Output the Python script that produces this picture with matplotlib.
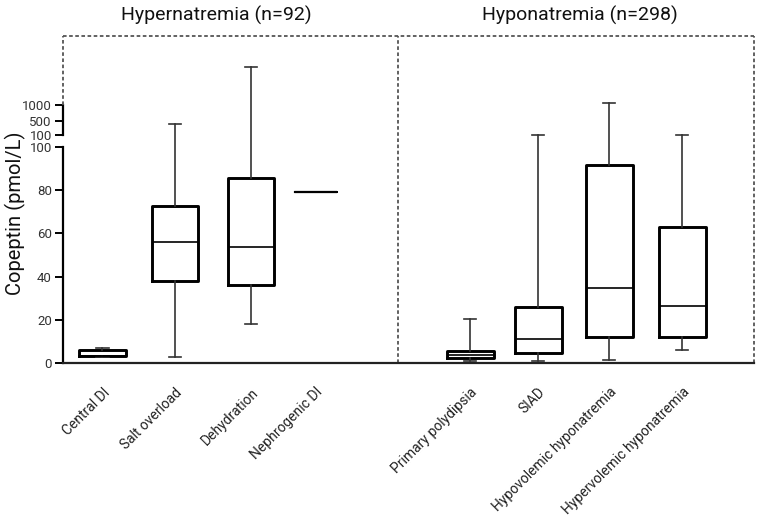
import numpy as np
import matplotlib
matplotlib.use("Agg")
import matplotlib.pyplot as plt
import matplotlib.transforms as mtransforms

plt.rcParams['font.family'] = ['Roboto', 'DejaVu Sans']

# ---------------- data ----------------
categories = ["Central DI", "Salt overload", "Dehydration", "Nephrogenic DI",
              "Primary polydipsia", "SIAD", "Hypovolemic hyponatremia",
              "Hypervolemic hyponatremia"]
whisker_low = [2.6, 2.9, 18.2, 79.0, 0.9, 1.1, 1.4, 6.2]
q1          = [3.4, 37.8, 36.0, 79.0, 2.2, 4.5, 11.9, 12.2]
median      = [3.4, 56.2, 53.8, 79.0, 3.8, 11.0, 34.9, 26.2]
q3          = [6.2, 72.7, 85.5, 79.0, 5.4, 26.1, 91.8, 63.1]
whisker_high = [6.9, 420, 2100, 79.0, 20.4, 105, 1040, 101]

group_titles = ["Hypernatremia (n=92)", "Hyponatremia (n=298)"]
ytick_values = [0, 20, 40, 60, 80, 100, 100.001, 500, 1000]
ytick_labels = ["0", "20", "40", "60", "80", "100", "100", "500", "1000"]

# ---------------- layout ----------------
positions = [0.556, 1.577, 2.648, 3.559, 5.732, 6.690, 7.690, 8.718]
widths = [0.66, 0.66, 0.66, 0.59, 0.66, 0.66, 0.66, 0.66]
group_centers = [2.155, 7.28]
divider_x = 4.714
XMAX = 9.73
YMAX = 3022

GAP = 5.56
K = 0.01569


def fwd(y):
    y = np.asarray(y, dtype=float)
    return np.where(y <= 100, y, 100 + GAP + (y - 100) * K)


def inv(t):
    t = np.asarray(t, dtype=float)
    with np.errstate(all="ignore"):
        up = 100 + (t - 100 - GAP) / K
    return np.where(t <= 100, t, np.where(t < 100 + GAP, 100, up))


fig = plt.figure(figsize=(7.6, 5.19), dpi=100)
ax = fig.add_axes([63 / 760, 1 - 363 / 519, 691 / 760, 327 / 519])
ax.set_yscale("function", functions=(fwd, inv))
ax.set_xlim(0, XMAX)
ax.set_ylim(0, YMAX)

stats = []
for i, c in enumerate(categories):
    stats.append(dict(label=c, whislo=whisker_low[i], q1=q1[i], med=median[i],
                      q3=q3[i], whishi=whisker_high[i], fliers=[]))

bp = ax.bxp(stats, positions=positions, widths=widths, capwidths=0.17,
            showfliers=False, patch_artist=False,
            boxprops=dict(color="black", linewidth=2.1),
            medianprops=dict(color="black", linewidth=1.2),
            whiskerprops=dict(color="#333333", linewidth=1.2),
            capprops=dict(color="#333333", linewidth=1.2))
# single-value group drawn as a thin line
bp["boxes"][3].set_linewidth(1.5)
bp["medians"][3].set_linewidth(1.5)
for art in (bp["whiskers"][6], bp["whiskers"][7], bp["caps"][6], bp["caps"][7]):
    art.set_visible(False)

# spines
for s in ("left", "top", "right"):
    ax.spines[s].set_visible(False)
ax.spines["bottom"].set_linewidth(1.6)
ax.spines["bottom"].set_color("#222222")

blend = mtransforms.blended_transform_factory(ax.transAxes, ax.transData)
ax.plot([0, 0], [0, 100], color="black", lw=1.6, transform=blend, clip_on=False)
ax.plot([0, 0], [100.001, 1000], color="black", lw=1.6, transform=blend, clip_on=False)

dash = dict(color="#555555", lw=1.3, linestyle=(0, (2.0, 1.4)), clip_on=False)
ax.plot([0, 0], [1000, YMAX], transform=blend, **dash)
ax.plot([0, XMAX], [YMAX, YMAX], **dash)
ax.plot([XMAX, XMAX], [0, YMAX], **dash)
ax.plot([divider_x, divider_x], [0, YMAX], **dash)

ax.set_yticks(ytick_values)
ax.set_yticklabels(ytick_labels)
ax.yaxis.set_minor_locator(matplotlib.ticker.NullLocator())
ax.tick_params(axis="y", direction="out", length=6, width=1.4, color="black",
               labelsize=9.5, labelcolor="#333333", pad=2)

ax.set_xticks(positions)
ax.set_xticklabels(categories, rotation=45, ha="right", rotation_mode="anchor",
                   fontsize=10, color="#222222")
ax.tick_params(axis="x", length=0, pad=16)

ax.set_ylabel("Copeptin (pmol/L)", fontsize=14.5, color="#111111")
ax.yaxis.set_label_coords(-37 / 691, 150 / 327)

tblend = mtransforms.blended_transform_factory(ax.transData, ax.transAxes)
for gx, gt in zip(group_centers, group_titles):
    ax.text(gx, 1 + 21 / 327, gt, transform=tblend, ha="center", va="center",
            fontsize=14, color="#111111")

fig.savefig("out.png", dpi=100)
